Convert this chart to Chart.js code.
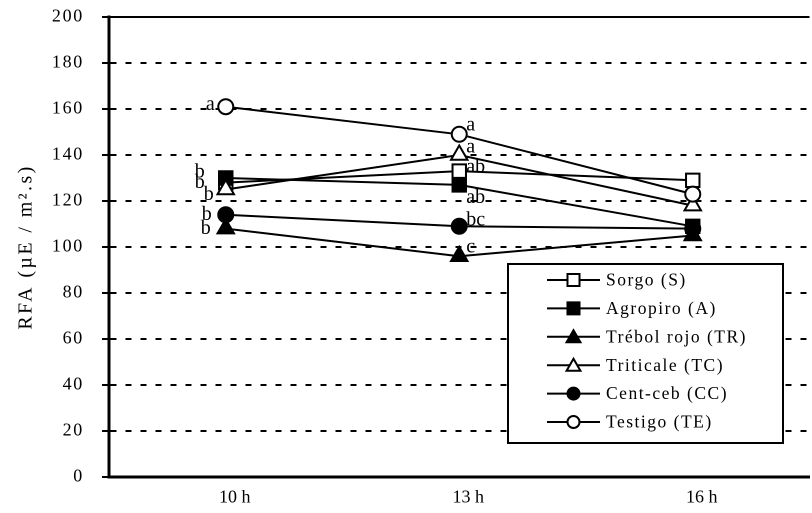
<!DOCTYPE html>
<html>
<head>
<meta charset="utf-8">
<script src="https://cdn.jsdelivr.net/npm/chart.js@4/dist/chart.umd.min.js"></script>
<style>
  html, body { margin: 0; padding: 0; background: #fff; overflow: hidden; width: 812px; height: 513px; }
  #wrap { position: absolute; left: 0; top: 0; width: 821px; height: 513px; }
  canvas { display: block; }
</style>
</head>
<body>
<div id="wrap"><canvas id="c" width="821" height="513"></canvas></div>
<script>
// Hours of measurement
const hours = ['10 h', '13 h', '16 h'];

// RFA (µE / m².s) per treatment
const sorgo      = [128, 133, 129];
const agropiro   = [130, 127, 109];
const trebolRojo = [108,  96, 105];
const triticale  = [125, 140, 118];
const centCeb    = [114, 109, 108];
const testigo    = [161, 149, 123];

// Y axis range and step
const yMin = 0, yMax = 200, yStep = 20;

// Significance letters per treatment and hour
const letSorgo      = ['b', 'ab', ''];
const letAgropiro   = ['b', 'ab', ''];
const letTrebolRojo = ['b', 'c',  ''];
const letTriticale  = ['b', 'a',  ''];
const letCentCeb    = ['b', 'bc', ''];
const letTestigo    = ['a', 'a',  ''];

const SERIF = "'Liberation Serif', 'Times New Roman', serif";

// extra tracking for the wide-set axis text
const textSpacing = { y: { ticks: '1.7px', title: '2.4px' } };

function series(label, data, letters, style, fill, radius, nudges) {
  return {
    label, data, letters, nudges,
    borderColor: '#000', borderWidth: 2, tension: 0,
    pointStyle: style, pointRadius: radius, pointHoverRadius: radius,
    pointBackgroundColor: fill, pointBorderColor: '#000', pointBorderWidth: 2,
    fill: false
  };
}

// letter placement next to each marker: [dx, dy, align]
const datasets = [
  series('Sorgo (S)',         sorgo,      letSorgo,      'rect',     '#fff', 9.5, [[-21, 0, 'right'], [7, -4, 'left']]),
  series('Agropiro (A)',      agropiro,   letAgropiro,   'rect',     '#000', 9.5, [[-21, -6, 'right'], [7, 13, 'left']]),
  series('Trébol rojo (TR)',  trebolRojo, letTrebolRojo, 'triangle', '#000', 9.5, [[-15, 0, 'right'], [7, -9, 'left']]),
  series('Triticale (TC)',    triticale,  letTriticale,  'triangle', '#fff', 9.5, [[-12, 5, 'right'], [7, -8, 'left']]),
  series('Cent-ceb (CC)',     centCeb,    letCentCeb,    'circle',   '#000', 7.5, [[-14, 0, 'right'], [7, -6, 'left']]),
  series('Testigo (TE)',      testigo,    letTestigo,    'circle',   '#fff', 7.5, [[-11, -2, 'right'], [7, -9, 'left']])
];
// later series are painted over earlier ones
datasets.forEach((d, i) => { d.order = datasets.length - 1 - i; });

function marker(ctx, style, x, y, r) {
  ctx.beginPath();
  if (style === 'rect') {
    const s = r * Math.SQRT1_2;
    ctx.rect(x - s, y - s, 2 * s, 2 * s);
  } else if (style === 'triangle') {
    ctx.moveTo(x, y - r);
    ctx.lineTo(x + Math.sin(2 * Math.PI / 3) * r, y - Math.cos(2 * Math.PI / 3) * r);
    ctx.lineTo(x + Math.sin(4 * Math.PI / 3) * r, y - Math.cos(4 * Math.PI / 3) * r);
    ctx.closePath();
  } else {
    ctx.arc(x, y, r, 0, Math.PI * 2);
  }
  ctx.fill();
  ctx.stroke();
}

// applies letter spacing to a scale's tick labels / title while they are drawn
const spacedText = {
  id: 'spacedText',
  beforeDraw(chart) {
    Object.keys(textSpacing).forEach(id => {
      const s = chart.scales[id];
      if (!s || s._spacedText) return;
      s._spacedText = true;
      const cfg = textSpacing[id];
      const wrap = (name, sp) => {
        const orig = s[name].bind(s);
        s[name] = function (...a) {
          const ctx = this.ctx;
          const prev = ctx.letterSpacing;
          ctx.letterSpacing = sp;
          orig(...a);
          ctx.letterSpacing = prev || '0px';
        };
      };
      if (cfg.ticks) wrap('drawLabels', cfg.ticks);
      if (cfg.title) wrap('drawTitle', cfg.title);
    });
  }
};

const topFrame = {
  id: 'topFrame',
  beforeDatasetsDraw(chart) {
    const { ctx, chartArea: a } = chart;
    ctx.save();
    ctx.strokeStyle = '#000';
    ctx.lineWidth = 2;
    ctx.beginPath();
    ctx.moveTo(a.left, a.top);
    ctx.lineTo(a.right, a.top);
    ctx.stroke();
    ctx.restore();
  }
};

const letterLabels = {
  id: 'letterLabels',
  afterDatasetsDraw(chart) {
    const ctx = chart.ctx;
    ctx.save();
    ctx.font = '20px ' + SERIF;
    ctx.fillStyle = '#000';
    ctx.textBaseline = 'middle';
    chart.data.datasets.forEach((ds, di) => {
      const meta = chart.getDatasetMeta(di);
      meta.data.forEach((pt, i) => {
        const t = ds.letters[i];
        if (!t) return;
        const n = ds.nudges[i];
        ctx.textAlign = n[2];
        ctx.fillText(t, pt.x + n[0], pt.y + n[1]);
      });
    });
    ctx.restore();
  }
};

const boxLegend = {
  id: 'boxLegend',
  afterDraw(chart, args, o) {
    const ctx = chart.ctx;
    ctx.save();
    ctx.fillStyle = '#fff';
    ctx.fillRect(o.x, o.y, o.w, o.h);
    ctx.strokeStyle = '#000';
    ctx.lineWidth = 2;
    ctx.strokeRect(o.x, o.y, o.w, o.h);
    ctx.font = '17.5px ' + SERIF;
    ctx.letterSpacing = '1.5px';
    ctx.textAlign = 'left';
    ctx.textBaseline = 'middle';
    chart.data.datasets.forEach((ds, i) => {
      const yy = o.y + o.first + i * o.row;
      ctx.strokeStyle = '#000';
      ctx.lineWidth = 2;
      ctx.beginPath();
      ctx.moveTo(o.lineX0, yy);
      ctx.lineTo(o.lineX1, yy);
      ctx.stroke();
      ctx.fillStyle = ds.pointBackgroundColor;
      const r = ds.pointStyle === 'circle' ? 6 : (ds.pointStyle === 'rect' ? 8.5 : 8);
      marker(ctx, ds.pointStyle, (o.lineX0 + o.lineX1) / 2, yy + (ds.pointStyle === 'triangle' ? 1.5 : 0), r);
      ctx.fillStyle = '#000';
      ctx.fillText(ds.label, o.textX, yy + 1);
    });
    ctx.restore();
  }
};

new Chart(document.getElementById('c'), {
  type: 'line',
  data: { labels: hours, datasets },
  options: {
    responsive: false,
    devicePixelRatio: 2,
    animation: false,
    layout: { padding: { top: 17, left: 0, right: 0, bottom: 0 } },
    plugins: {
      legend: { display: false },
      tooltip: { enabled: false },
      boxLegend: { x: 508, y: 264, w: 275, h: 179, first: 16, row: 28.4, lineX0: 547, lineX1: 600, textX: 606 }
    },
    scales: {
      x: {
        type: 'category',
        offset: true,
        grid: { display: false, drawTicks: false },
        border: { display: true, color: '#000', width: 3 },
        ticks: { color: '#000', font: { family: SERIF, size: 18 }, padding: 10, labelOffset: 9, maxRotation: 0, autoSkip: false },
        afterFit(s) { s.height = 36; s.paddingLeft = 0; s.paddingRight = 0; }
      },
      y: {
        min: yMin, max: yMax,
        ticks: { stepSize: yStep, color: '#000', font: { family: SERIF, size: 18 }, padding: 18 },
        grid: {
          color: c => (c.tick && (c.tick.value === yMin || c.tick.value === yMax)) ? 'rgba(0,0,0,0)' : '#000',
          lineWidth: 2, tickColor: '#000', tickLength: 7, tickWidth: 2
        },
        border: { display: true, color: '#000', width: 3, dash: [6, 9] },
        title: { display: true, text: 'RFA (µE / m².s)', color: '#000', font: { family: SERIF, size: 20 }, padding: { top: 14, bottom: 0 } },
        afterFit(s) { s.width = 109; s.paddingTop = 0; s.paddingBottom = 0; }
      }
    }
  },
  plugins: [spacedText, topFrame, letterLabels, boxLegend]
});
</script>
</body>
</html>
